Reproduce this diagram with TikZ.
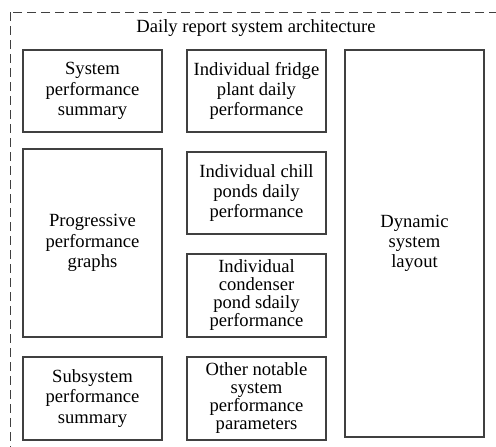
\documentclass[tikz,border=0pt]{standalone}
\usepackage{fontspec}
\setmainfont{Liberation Serif}
\begin{document}
\begin{tikzpicture}[x=1pt,y=-1pt,
  blk/.style={draw=black!75, line width=1.2pt, rectangle, align=center, inner sep=2pt,
    font=\fontsize{18.6}{20.2}\selectfont, text=black},
  tight/.style={font=\fontsize{18.6}{18}\selectfont},
  frame/.style={draw=black!75, line width=1pt, dash pattern=on 9pt off 5pt}]
\useasboundingbox (0,0) rectangle (496,447);
\clip (0,0) rectangle (496,447);
\draw[frame] (10,12) rectangle (510,470);
\node[font=\fontsize{18.6}{20.2}\selectfont, text=black] (title) at (256,28) {Daily report system architecture};
\node[blk, minimum width=139pt, minimum height=82pt] (A) at (92.5,91) {System\\performance\\summary};
\node[blk, minimum width=139pt, minimum height=82pt] (B) at (256.5,91) {Individual fridge\\plant daily\\performance};
\node[blk, minimum width=139pt, minimum height=387pt] (C) at (414.5,243.5) {Dynamic\\system\\layout};
\node[blk, minimum width=139pt, minimum height=188pt] (D) at (92.5,243) {Progressive\\performance\\graphs};
\node[blk, minimum width=139pt, minimum height=82pt] (E) at (256.5,193) {Individual chill\\ponds daily\\performance};
\node[blk, tight, minimum width=139pt, minimum height=83pt] (F) at (256.5,295.5) {Individual\\condenser\\pond sdaily\\performance};
\node[blk, minimum width=139pt, minimum height=83pt] (G) at (92.5,398.5) {Subsystem\\performance\\summary};
\node[blk, tight, minimum width=139pt, minimum height=83pt] (H) at (256.5,398.5) {Other notable\\system\\performance\\parameters};
\end{tikzpicture}
\end{document}
